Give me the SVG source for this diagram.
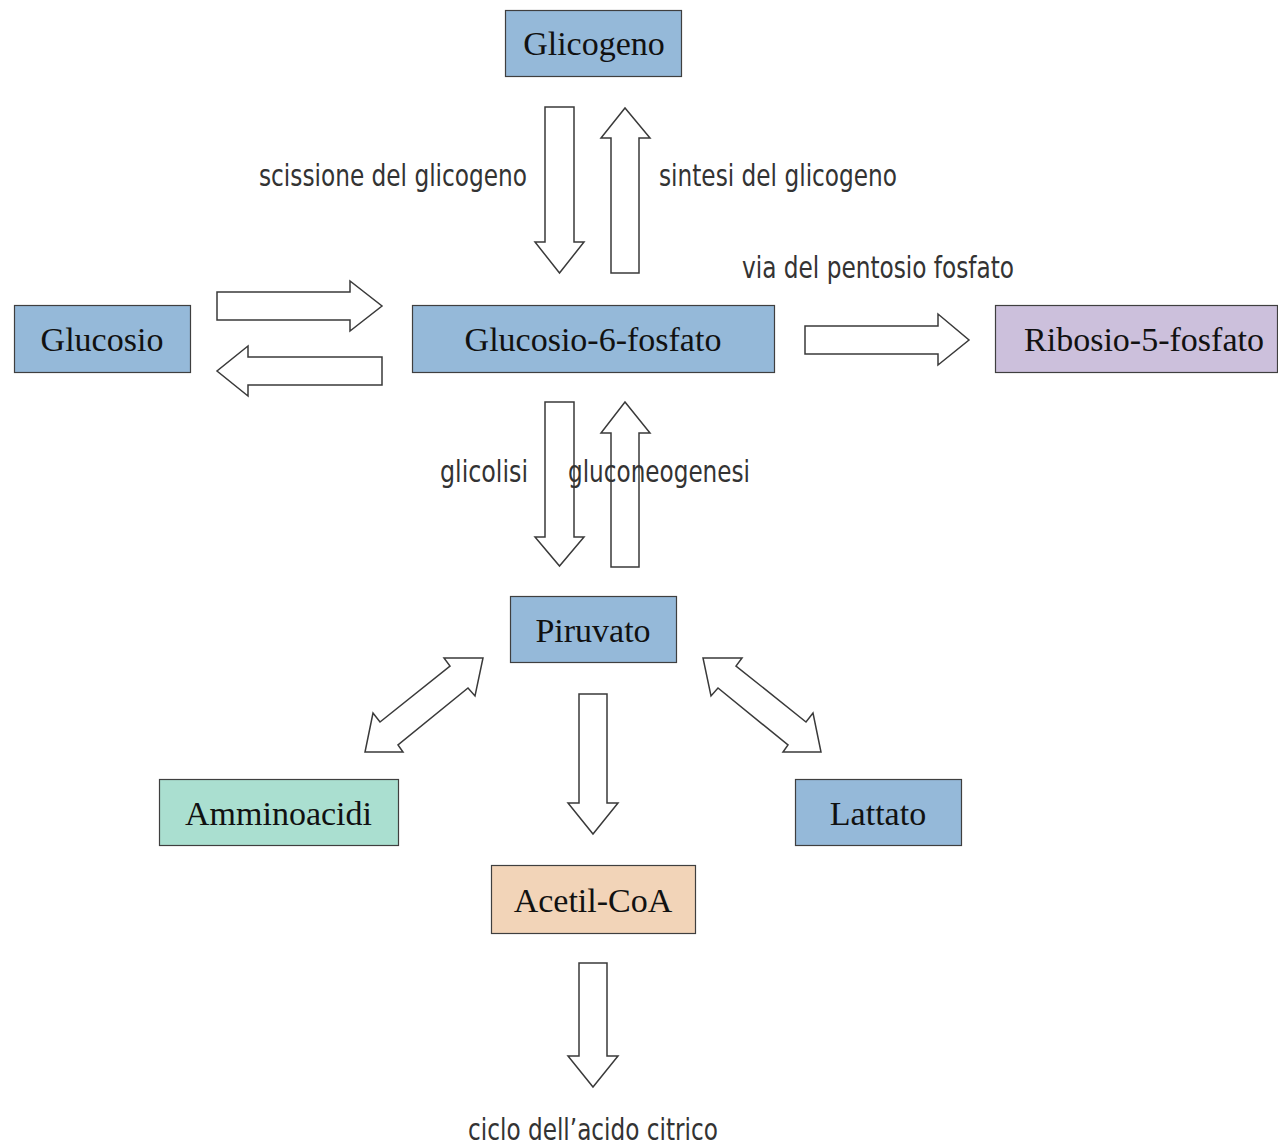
<svg xmlns="http://www.w3.org/2000/svg" width="1278" height="1145" viewBox="0 0 1278 1145">
<style>
.box{stroke:#3f3f3f;stroke-width:1.2}
.blue{fill:#95b9d9}
.purple{fill:#ccc0dc}
.teal{fill:#aadfd0}
.peach{fill:#f2d4b8}
.nt{font-family:"Liberation Serif","Times New Roman",serif;font-size:34px;fill:#111;text-anchor:middle}
.lb{font-family:"Liberation Sans Narrow","DejaVu Sans Condensed","Liberation Sans",sans-serif;font-stretch:condensed;font-size:31px;fill:#333}
.arr{fill:#fff;stroke:#3a3a3a;stroke-width:1.5;stroke-linejoin:miter}
</style>
<rect width="1278" height="1145" fill="#fff"/>
<g id="connectors">
<polygon class="arr" points="545,107 574,107 574,242 584,242 559.5,273 535,242 545,242"/>
<polygon class="arr" points="611,273 611,138 601,138 625,108 650,138 639,138 639,273"/>
<polygon class="arr" points="217,292 350,292 350,281 382,306 350,331 350,320 217,320"/>
<polygon class="arr" points="382,357 248,357 248,346 217,371 248,396 248,385 382,385"/>
<polygon class="arr" points="805,326 938,326 938,314 969,340 938,365 938,354 805,354"/>
<polygon class="arr" points="545,402 574,402 574,537 584,537 559.5,566 535,537 545,537"/>
<polygon class="arr" points="611,567 611,433 601,433 625,402 650,433 639,433 639,567"/>
<polygon class="arr" points="579,694 607,694 607,803 618,803 593,834 568,803 579,803"/>
<polygon class="arr" points="579,963 607,963 607,1056 618,1056 593,1087 568,1056 579,1056"/>
<polygon class="arr" points="444,658 483,658 475,696 468,688 398,745 403,752 365,752 373,713 380,722 450,666"/>
<polygon class="arr" points="742,658 703,658 711,696 718,688 788,745 783,752 821,752 813,713 806,722 736,666"/>
</g>
<g id="labels">
<text class="lb" x="259" y="186" textLength="268" lengthAdjust="spacingAndGlyphs">scissione del glicogeno</text>
<text class="lb" x="659" y="186" textLength="238" lengthAdjust="spacingAndGlyphs">sintesi del glicogeno</text>
<text class="lb" x="742" y="278" textLength="272" lengthAdjust="spacingAndGlyphs">via del pentosio fosfato</text>
<text class="lb" x="440" y="482" textLength="88" lengthAdjust="spacingAndGlyphs">glicolisi</text>
<text class="lb" x="568" y="482" textLength="182" lengthAdjust="spacingAndGlyphs">gluconeogenesi</text>
<text class="lb" x="468" y="1140" textLength="250" lengthAdjust="spacingAndGlyphs">ciclo dell’acido citrico</text>
</g>
<g id="glicogeno"><rect class="box blue" x="505.5" y="10.5" width="176" height="66"/><text class="nt" x="594" y="55">Glicogeno</text></g>
<g id="glucosio"><rect class="box blue" x="14.5" y="305.5" width="176" height="67"/><text class="nt" x="102" y="351">Glucosio</text></g>
<g id="glucosio6fosfato"><rect class="box blue" x="412.5" y="305.5" width="362" height="67"/><text class="nt" x="593" y="351">Glucosio-6-fosfato</text></g>
<g id="ribosio5fosfato"><rect class="box purple" x="995.5" y="305.5" width="282" height="67"/><text class="nt" x="1144" y="351">Ribosio-5-fosfato</text></g>
<g id="piruvato"><rect class="box blue" x="510.5" y="596.5" width="166" height="66"/><text class="nt" x="593" y="642">Piruvato</text></g>
<g id="amminoacidi"><rect class="box teal" x="159.5" y="779.5" width="239" height="66"/><text class="nt" x="278.5" y="825">Amminoacidi</text></g>
<g id="lattato"><rect class="box blue" x="795.5" y="779.5" width="166" height="66"/><text class="nt" x="878" y="825">Lattato</text></g>
<g id="acetilcoa"><rect class="box peach" x="491.5" y="865.5" width="204" height="68"/><text class="nt" x="593" y="912">Acetil-CoA</text></g>
</svg>
